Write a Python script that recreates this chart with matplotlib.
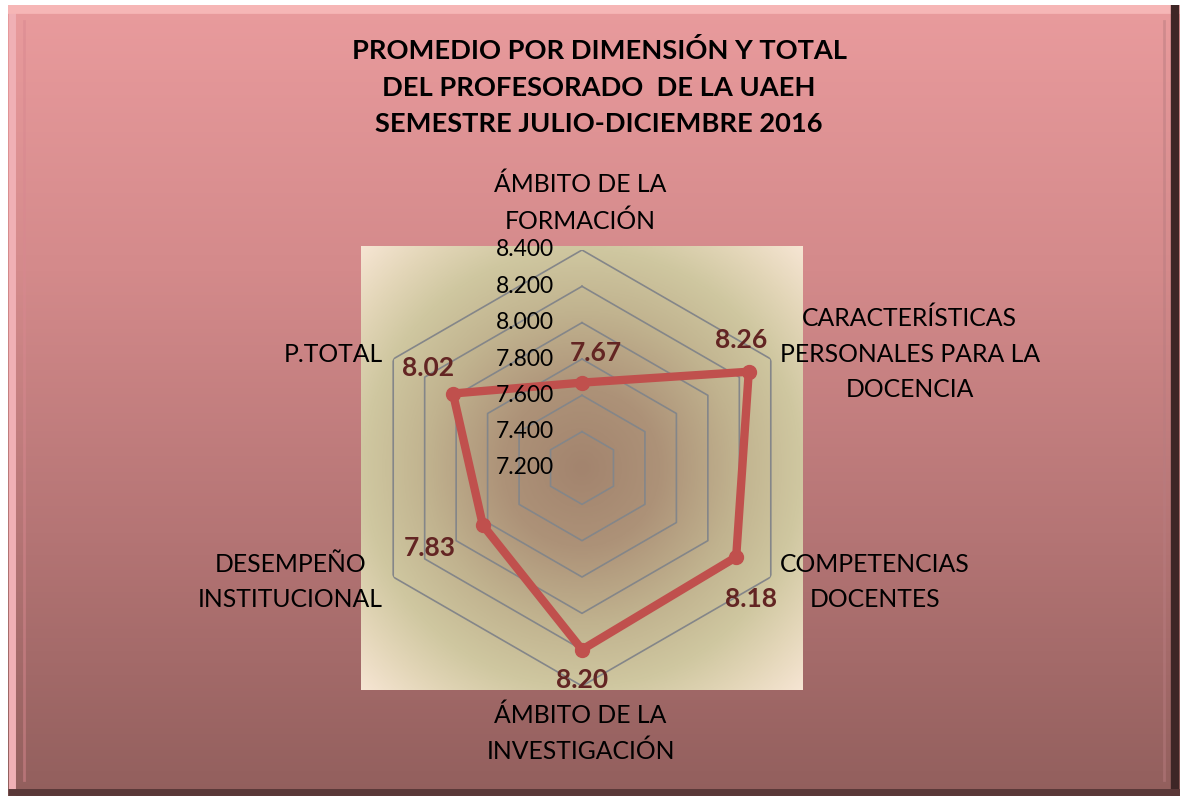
import numpy as np
import matplotlib
matplotlib.use("Agg")
from matplotlib import pyplot as plt
from matplotlib.colors import LinearSegmentedColormap

# datos del grafico
dimensiones = ["ÁMBITO DE LA\nFORMACIÓN",
               "CARACTERÍSTICAS\nPERSONALES PARA LA\nDOCENCIA",
               "COMPETENCIAS\nDOCENTES",
               "ÁMBITO DE LA\nINVESTIGACIÓN",
               "DESEMPEÑO\nINSTITUCIONAL",
               "P.TOTAL"]
promedios = [7.67, 8.26, 8.18, 8.20, 7.83, 8.02]
ticks = [7.2, 7.4, 7.6, 7.8, 8.0, 8.2, 8.4]
titulo = "PROMEDIO POR DIMENSIÓN Y TOTAL\nDEL PROFESORADO  DE LA UAEH\nSEMESTRE JULIO-DICIEMBRE 2016"

plt.rcParams['font.family'] = ['Lato', 'DejaVu Sans']

W, H = 1182, 801
fig = plt.figure(figsize=(W / 100, H / 100), dpi=100, facecolor='white')

# fondo rosa con degradado vertical
bg = fig.add_axes([8 / W, 1 - 796 / H, (1180 - 8) / W, (796 - 5) / H])
cmap_bg = LinearSegmentedColormap.from_list('bg', ['#e99b9d', '#d48a8b', '#b57575', '#925f5d'])
grad = np.linspace(0, 1, 256).reshape(-1, 1)
bg.imshow(grad, aspect='auto', cmap=cmap_bg, extent=[0, 1, 0, 1], origin='upper')
bg.set_xlim(0, 1)
bg.set_ylim(0, 1)
bg.axis('off')
# bisel
bg.plot([0.003, 0.003], [0.0, 1.0], color='#f0b0b5', lw=5, solid_capstyle='butt')
bg.plot([0.0, 1.0], [0.995, 0.995], color='#f6b6b6', lw=7, solid_capstyle='butt')
bg.plot([0.996, 0.996], [0.0, 1.0], color='#3e2626', lw=6, solid_capstyle='butt')
bg.plot([0.0, 1.0], [0.005, 0.005], color='#5a3838', lw=5, solid_capstyle='butt')
bg.plot([0.986, 0.986], [0.02, 0.98], color='#b87c80', lw=2, alpha=0.5)
bg.plot([0.014, 0.014], [0.02, 0.98], color='#d88890', lw=2, alpha=0.5)

# area de trazado con degradado radial
pa = fig.add_axes([361 / W, 1 - 690 / H, 442 / W, 444 / H])
yy, xx = np.mgrid[-1:1:400j, -1:1:400j]
rr = np.sqrt(xx ** 2 + yy ** 2)
cmap_pa = LinearSegmentedColormap.from_list(
    'pa', [(0.0, '#a3846e'), (0.25, '#ad9278'), (0.5, '#c1b38f'), (0.7, '#cfc7a0'),
           (0.85, '#e3d6b8'), (1.0, '#f6e5d3')])
pa.imshow(rr / rr.max(), cmap=cmap_pa, aspect='auto', extent=[0, 1, 0, 1])
pa.axis('off')

# radar
ax = fig.add_axes([(582 - 218) / W, 1 - (468 + 218) / H, 436 / W, 436 / H], projection='polar')
ax.patch.set_alpha(0)
ax.set_theta_zero_location('N')
ax.set_theta_direction(-1)
ax.set_ylim(ticks[0], ticks[-1])
ax.grid(False)
ax.set_xticks([])
ax.set_yticks([])
ax.spines['polar'].set_visible(False)

n = len(dimensiones)
angulos = np.arange(n) * 2 * np.pi / n
ang_cerr = np.append(angulos, angulos[0])

for t in ticks[1:]:
    ax.plot(ang_cerr, [t] * (n + 1), color='#848689', lw=1.2, zorder=1)

vals = promedios + promedios[:1]
ax.plot(ang_cerr, vals, color='#c0504d', lw=6, zorder=3, solid_joinstyle='round')
ax.plot(angulos, promedios, 'o', color='#c0504d', ms=10, zorder=4)

for t in ticks:
    ax.annotate(f"{t:.3f}", (0, t), xytext=(-20, 0), textcoords='offset points',
                ha='right', va='center', fontsize=16.5, color='black', zorder=5)

off_datos = [(10, 21.6), (-5.8, 23), (10.8, -30), (0, -21.6), (-38, -16.6), (-18, 18.7)]
for a, v, o in zip(angulos, promedios, off_datos):
    ax.annotate(f"{v:.2f}", (a, v), xytext=o, textcoords='offset points',
                ha='center', va='center', fontsize=19, fontweight='bold',
                color='#632523', zorder=6)

off_cat = [(-1, 34), (100, 3.6), (75, -3.6), (-1, -34), (-74, -3.6), (-43, 3.6)]
for a, d, o in zip(angulos, dimensiones, off_cat):
    ax.annotate(d, (a, ticks[-1]), xytext=o, textcoords='offset points',
                ha='center', va='center', fontsize=17.8, color='black',
                linespacing=1.65, annotation_clip=False, zorder=6)

fig.text(599 / W, 1 - 87 / H, titulo, ha='center', va='center', fontsize=19.6,
         fontweight='bold', color='black', linespacing=1.63)

fig.savefig('out.png', dpi=100, facecolor='white')
